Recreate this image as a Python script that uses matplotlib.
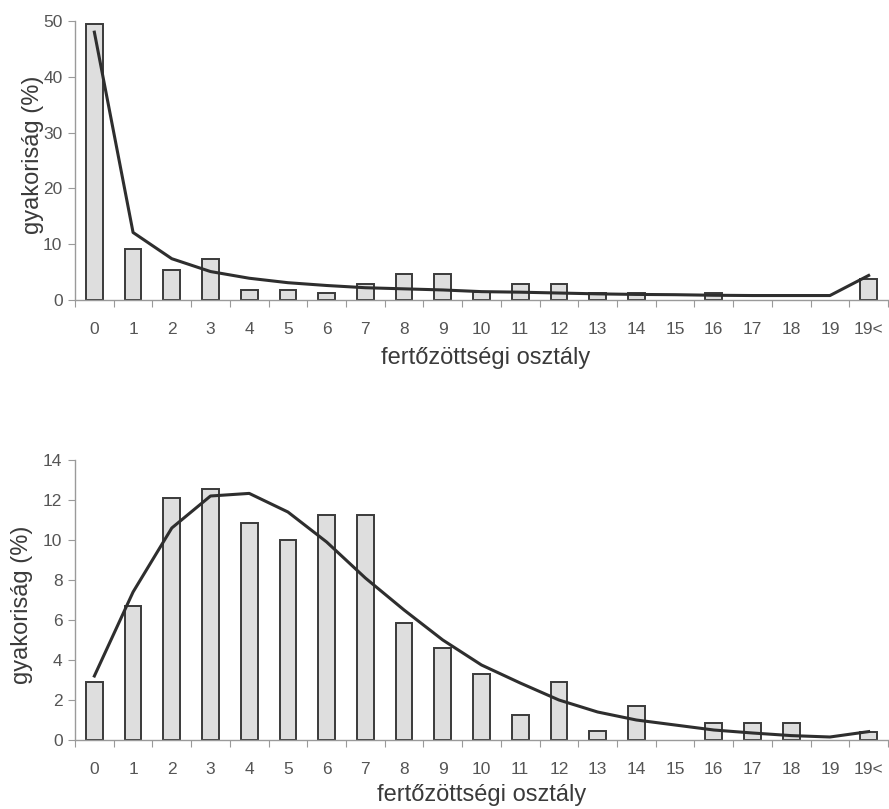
import matplotlib
matplotlib.use("Agg")
import matplotlib.pyplot as plt
import numpy as np

plt.rcParams['font.family'] = ['Liberation Sans', 'DejaVu Sans']

categories = [str(i) for i in range(20)] + ["19<"]

# Upper panel: observed frequencies (bars) and fitted distribution (line)
top_bars = [49.5, 9.2, 5.4, 7.3, 1.8, 1.8, 1.2, 2.9, 4.7, 4.7,
            1.4, 2.9, 2.9, 1.2, 1.2, 0.0, 1.2, 0.0, 0.0, 0.0, 3.8]
top_line = [48.0, 12.1, 7.4, 5.1, 3.9, 3.1, 2.6, 2.2, 2.0, 1.8,
            1.5, 1.4, 1.25, 1.1, 1.0, 0.95, 0.85, 0.8, 0.8, 0.8, 4.4]
top_yticks = [0, 10, 20, 30, 40, 50]

# Lower panel
bottom_bars = [2.9, 6.7, 12.1, 12.55, 10.85, 10.0, 11.25, 11.25, 5.85, 4.6,
               3.3, 1.25, 2.9, 0.45, 1.7, 0.0, 0.85, 0.85, 0.85, 0.0, 0.42]
bottom_line = [3.2, 7.4, 10.6, 12.2, 12.33, 11.4, 9.9, 8.1, 6.5, 5.0,
               3.75, 2.85, 2.0, 1.4, 1.0, 0.75, 0.5, 0.35, 0.22, 0.15, 0.42]
bottom_yticks = [0, 2, 4, 6, 8, 10, 12, 14]

ylabel = "gyakoriság (%)"
xlabel = "fertőzöttségi osztály"

W, H = 889, 809
fig = plt.figure(figsize=(W / 100, H / 100), dpi=100)
fig.patch.set_facecolor("white")

AX_COLOR = "#9a9a9a"
TICK_TXT = "#555555"
LABEL_TXT = "#3a3a3a"
BAR_FILL = "#dedede"
BAR_EDGE = "#3a3a3a"
LINE_COLOR = "#2e2e2e"


def panel(rect, bars, line, yticks):
    ax = fig.add_axes(rect)
    x = np.arange(len(categories))
    bars = np.asarray(bars, dtype=float)
    # empty classes get no bar outline
    nz = bars > 0
    ax.bar(x[nz], bars[nz], width=0.43, color=BAR_FILL, edgecolor=BAR_EDGE,
           linewidth=1.4, zorder=2)
    ax.plot(x, line, color=LINE_COLOR, linewidth=2.2, zorder=3,
            solid_joinstyle="round")
    ax.set_xlim(-0.5, len(categories) - 0.5)
    ax.set_ylim(yticks[0], yticks[-1])
    for s in ("top", "right"):
        ax.spines[s].set_visible(False)
    for s in ("left", "bottom"):
        ax.spines[s].set_color(AX_COLOR)
        ax.spines[s].set_linewidth(1.0)
    ax.set_yticks(yticks)
    ax.set_yticklabels([str(t) for t in yticks])
    ax.tick_params(axis="y", direction="out", length=5, width=0.8,
                   color=AX_COLOR, labelcolor=TICK_TXT, labelsize=12.5, pad=4)
    ax.set_xticks(x)
    ax.set_xticklabels(categories)
    ax.set_xticks(np.arange(-0.5, len(categories) + 0.5, 1.0), minor=True)
    ax.tick_params(axis="x", which="major", length=0, labelcolor=TICK_TXT,
                   labelsize=12.5, pad=16)
    ax.tick_params(axis="x", which="minor", direction="out", length=5,
                   width=0.8, color=AX_COLOR)
    return ax


ax1 = panel([75 / W, 509 / H, 813 / W, 279 / H], top_bars, top_line, top_yticks)
ax2 = panel([75 / W, 69 / H, 813 / W, 280 / H], bottom_bars, bottom_line, bottom_yticks)

fig.text(33 / W, 1 - 155 / H, ylabel, rotation=90, ha="center", va="center",
         fontsize=17, color=LABEL_TXT)
fig.text(22 / W, 1 - 605 / H, ylabel, rotation=90, ha="center", va="center",
         fontsize=17, color=LABEL_TXT)
fig.text(486 / W, 1 - 358 / H, xlabel, ha="center", va="center",
         fontsize=17, color=LABEL_TXT)
fig.text(482 / W, 1 - 795 / H, xlabel, ha="center", va="center",
         fontsize=17, color=LABEL_TXT)

fig.savefig("out.png", dpi=100, facecolor="white")
